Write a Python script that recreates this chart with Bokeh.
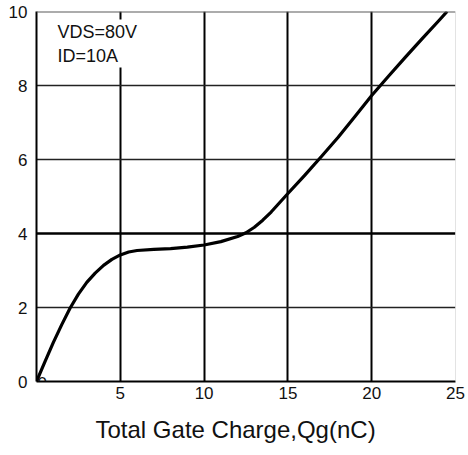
from bokeh.plotting import figure
from bokeh.models import Range1d, FixedTicker, Span, Label, ColumnDataSource, Title
from bokeh.embed import file_html
from bokeh.resources import INLINE

# Gate charge curve: gate-source voltage vs. total gate charge
qg = [0, 0.5, 1, 1.5, 2, 2.5, 3, 3.5, 4, 4.5, 5, 5.5, 6, 7, 8, 9, 10, 11,
      12, 12.5, 13, 13.5, 14, 14.5, 15, 16, 17, 18, 19, 20, 21, 22, 23,
      24, 24.5]
vgs = [0, 0.53, 1.05, 1.53, 1.98, 2.36, 2.68, 2.93, 3.14, 3.3, 3.42, 3.5,
       3.54, 3.57, 3.59, 3.63, 3.69, 3.78, 3.92, 4.02, 4.17, 4.36, 4.58,
       4.83, 5.08, 5.57, 6.08, 6.6, 7.16, 7.73, 8.25, 8.76, 9.26, 9.75,
       10.0]

x_ticks = [5, 10, 15, 20, 25]
y_ticks = [0, 2, 4, 6, 8, 10]
x_grid = [5, 10, 15, 20]
y_grid_thin = [2, 6, 8]
y_grid_bold = 4
conditions = "VDS=80V\nID=10A"
x_title = "Total Gate Charge,Qg(nC)"

FONT = "Liberation Sans"

p = figure(width=468, height=455, output_backend="svg", toolbar_location=None,
           x_range=Range1d(0, 25), y_range=Range1d(0, 10),
           min_border_left=36, min_border_right=13,
           min_border_top=11, min_border_bottom=74)
p.outline_line_color = None
p.background_fill_color = "white"
p.border_fill_color = "white"

# axes
for ax in (p.xaxis[0], p.yaxis[0]):
    ax.major_tick_in = 0
    ax.major_tick_out = 0
    ax.minor_tick_in = 0
    ax.minor_tick_out = 0
    ax.axis_line_color = "black"
    ax.axis_line_width = 2
    ax.major_label_text_font = FONT
    ax.major_label_text_font_size = "17px"
    ax.major_label_text_color = "#111111"

p.xaxis.ticker = FixedTicker(ticks=x_ticks)
p.yaxis.ticker = FixedTicker(ticks=y_ticks)
p.xaxis.major_label_standoff = 5
p.yaxis.major_label_standoff = 9

# grid
p.xgrid.ticker = FixedTicker(ticks=x_grid)
p.xgrid.grid_line_color = "black"
p.xgrid.grid_line_width = 2
p.ygrid.ticker = FixedTicker(ticks=y_grid_thin)
p.ygrid.grid_line_color = "#222222"
p.ygrid.grid_line_width = 1.5

p.add_layout(Span(location=y_grid_bold, dimension="width",
                  line_color="black", line_width=2.5))
p.add_layout(Span(location=y_ticks[-1], dimension="width",
                  line_color="#5a5a5a", line_width=2))
p.add_layout(Span(location=x_ticks[-1], dimension="height",
                  line_color="#c8c8c8", line_width=1))

# curve
src = ColumnDataSource(dict(qg=qg, vgs=vgs))
p.line("qg", "vgs", source=src, line_color="black", line_width=3.2,
       line_join="round")

# x-axis zero label sitting at the origin
p.add_layout(Label(x=0, y=0, text="0", text_align="left",
                   text_baseline="middle", x_offset=1, y_offset=-1,
                   text_font=FONT, text_font_size="17px",
                   text_color="#111111"))

# test conditions
p.add_layout(Label(x=19, y=362, x_units="screen", y_units="screen",
                   text=conditions, text_align="left", text_baseline="top",
                   text_font=FONT, text_font_size="18px",
                   text_color="#111111", text_line_height=1.2,
                   background_fill_color="white", padding=2))

# x-axis title
p.add_layout(Title(text=x_title, align="left", offset=59, standoff=25,
                   text_font=FONT, text_font_size="24px",
                   text_font_style="normal", text_color="#111111"), "below")

open("out.html", "w").write(file_html(p, INLINE))
